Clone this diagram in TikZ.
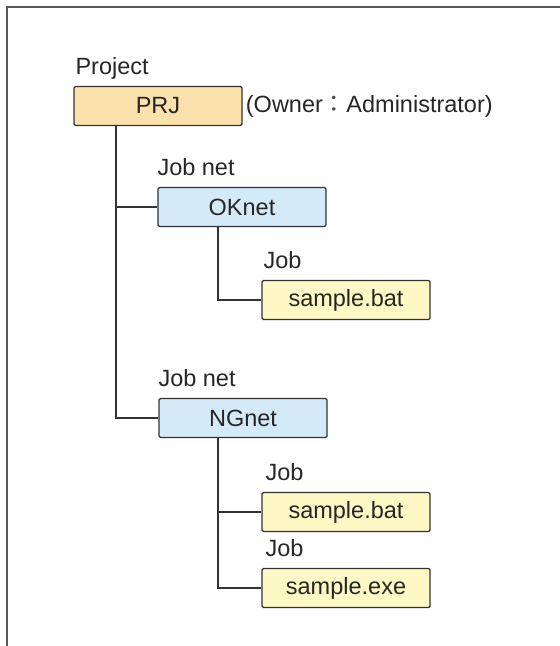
\documentclass[tikz,border=0pt]{standalone}
\usepackage{fontspec}
\setmainfont{Liberation Sans}
\newfontfamily\cjk{Noto Sans CJK JP}
\usetikzlibrary{positioning}
\definecolor{prjfill}{HTML}{FCE1AC}
\definecolor{netfill}{HTML}{D5EAF8}
\definecolor{jobfill}{HTML}{FEF9C4}
\definecolor{edge}{HTML}{333333}

\begin{document}
\begin{tikzpicture}[x=1pt, y=-1pt, font=\fontsize{23.5}{27}\selectfont, text=black!85,
    box/.style = {draw=edge, line width=1.4pt, rounded corners=1.5pt, minimum width=168pt, minimum height=39pt, inner sep=0pt},
    prj/.style = {box, fill=prjfill},
    net/.style = {box, fill=netfill},
    job/.style = {box, fill=jobfill},
    tag/.style = {anchor=base west, inner sep=0pt, yshift=11pt},
    link/.style = {draw=edge, line width=1.4pt}]
    \useasboundingbox (0,0) rectangle (560,646);
    % frame
    \draw[line width=2pt, black!65] (560,7) -- (7,7) -- (7,646);
    \node[prj] (PRJ) at (158,106) {PRJ};
    \node[net] (OK) at (242,207) {OKnet};
    \node[job] (J1) at (346,300) {sample.bat};
    \node[net] (NG) at (243,418) {NGnet};
    \node[job] (J2) at (346,512) {sample.bat};
    \node[job] (J3) at (346,588) {sample.exe};
    % labels
    \node[tag] (tagP) at ([xshift=2pt]PRJ.north west) {Project};
    \node[tag] (tagOK) at (OK.north west) {Job net};
    \node[tag] (tagJ1) at ([xshift=2pt]J1.north west) {Job};
    \node[tag] (tagNG) at (NG.north west) {Job net};
    \node[tag] (tagJ2) at ([xshift=4pt]J2.north west) {Job};
    \node[tag] (tagJ3) at ([xshift=4pt]J3.north west) {Job};
    \node[anchor=west, inner sep=0pt, xshift=3pt] (owner) at (PRJ.east) {(Owner{\cjk\color{black!70}：}Administrator)};
    % tree lines
    \coordinate (trunk) at ([xshift=-42pt]PRJ.south);
    \coordinate (okdown) at ([xshift=-24pt]OK.south);
    \coordinate (ngdown) at ([xshift=-25pt]NG.south);
    \draw[link] (trunk) |- (NG.west);
    \draw[link] (trunk |- OK.west) -- (OK.west);
    \draw[link] (okdown) |- (J1.west);
    \draw[link] (ngdown) |- (J3.west);
    \draw[link] (ngdown |- J2.west) -- (J2.west);
\end{tikzpicture}
\end{document}
